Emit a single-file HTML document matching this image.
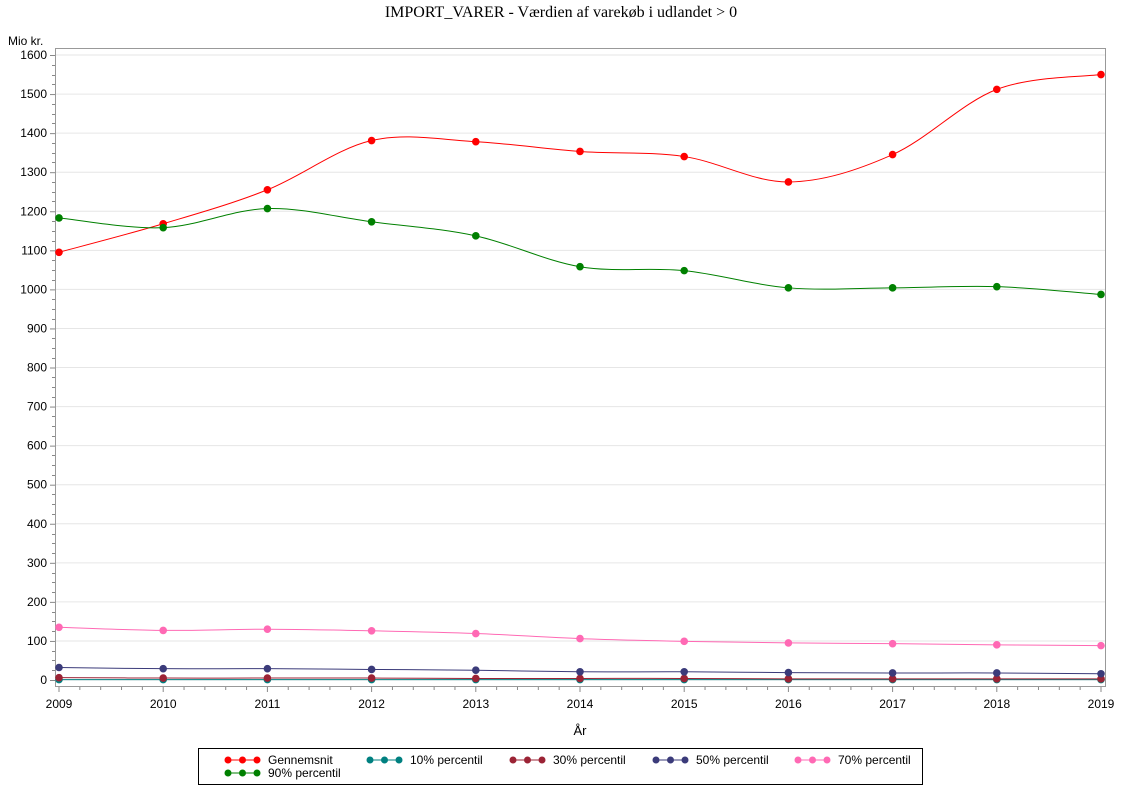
<!DOCTYPE html>
<html><head><meta charset="utf-8"><style>
body{margin:0;background:#fff;}
svg{display:block;font-family:"Liberation Sans",Arial,sans-serif;}
</style></head><body>
<svg id="s" width="1122" height="793" viewBox="0 0 1122 793" xmlns="http://www.w3.org/2000/svg">
<text x="561" y="17" text-anchor="middle" font-family="Liberation Serif,serif" font-size="16">IMPORT_VARER - Værdien af varekøb i udlandet &gt; 0</text>
<text x="8" y="45" font-size="12">Mio kr.</text>
<text x="580" y="735" text-anchor="middle" font-size="13">År</text>
<rect x="55.5" y="48.5" width="1050" height="638" fill="none" stroke="#999"/>
<g id="g"></g>
<rect x="198.5" y="748.5" width="724" height="36" fill="none" stroke="#000"/>
</svg>
<script>
const g=document.getElementById('g');let h='';
const X=i=>59+i*104.2, Y=v=>680-v*0.390625;
for(let v=0;v<=1600;v+=100){const y=Y(v);
 h+=`<line x1="56" x2="1105" y1="${y}" y2="${y}" stroke="#e6e6e6"/>`;
 h+=`<line x1="50" x2="55" y1="${y+.5}" y2="${y+.5}" stroke="#888"/>`;
 h+=`<text x="47" y="${y+4}" text-anchor="end" font-size="12">${v}</text>`;
 if(v<1600)for(let k=1;k<4;k++){const yy=Math.round(Y(v+25*k))+.5;h+=`<line x1="52" x2="55" y1="${yy}" y2="${yy}" stroke="#888"/>`;}}
for(let i=0;i<=10;i++){const x=X(i);
 h+=`<line x1="${x}" x2="${x}" y1="687" y2="692" stroke="#888"/>`;
 h+=`<text x="${x}" y="708" text-anchor="middle" font-size="12">${2009+i}</text>`;
 if(i<10)for(let k=1;k<5;k++){const xx=X(i+k/5);h+=`<line x1="${xx}" x2="${xx}" y1="687" y2="690" stroke="#888"/>`;}}
const S=[
["#ff0000",[1095,1168,1255,1381,1378,1353,1340,1275,1345,1512,1550]],
["#008080",[1,1,1,1,1,1,1,1,1,1,1]],
["#9b2335",[6,5,5,5,4,4,4,3,3,3,3]],
["#3b3b7a",[32,29,29,27,25,21,21,19,18,18,16]],
["#ff69b4",[135,127,130,126,119,106,99,95,93,90,88]],
["#008000",[1183,1158,1207,1173,1137,1058,1048,1004,1004,1007,987]]];
function path(d){const p=d.map((v,i)=>[X(i),Y(v)]);let s=`M${p[0]}`;
 for(let i=0;i<p.length-1;i++){const a=p[i-1]||p[i],b=p[i],c=p[i+1],e=p[i+2]||c;
  s+=`C${b[0]+(c[0]-a[0])/6},${b[1]+(c[1]-a[1])/6} ${c[0]-(e[0]-b[0])/6},${c[1]-(e[1]-b[1])/6} ${c[0]},${c[1]}`;}return s;}
for(const [c,d] of S){h+=`<path d="${path(d)}" fill="none" stroke="${c}" stroke-width="1"/>`;
 d.forEach((v,i)=>h+=`<circle cx="${X(i)}" cy="${Y(v)}" r="3.8" fill="${c}"/>`);}
const L=[["Gennemsnit","#ff0000",228,760],["10% percentil","#008080",370,760],["30% percentil","#9b2335",513,760],["50% percentil","#3b3b7a",656,760],["70% percentil","#ff69b4",798,760],["90% percentil","#008000",228,773]];
for(const [t,c,x,y] of L){h+=`<line x1="${x}" x2="${x+29}" y1="${y}" y2="${y}" stroke="${c}"/>`;
 for(let k=0;k<3;k++)h+=`<circle cx="${x+k*14.5}" cy="${y}" r="3.5" fill="${c}"/>`;
 h+=`<text x="${x+40}" y="${y+4}" font-size="12">${t}</text>`;}
g.innerHTML=h;
</script>
</body></html>
